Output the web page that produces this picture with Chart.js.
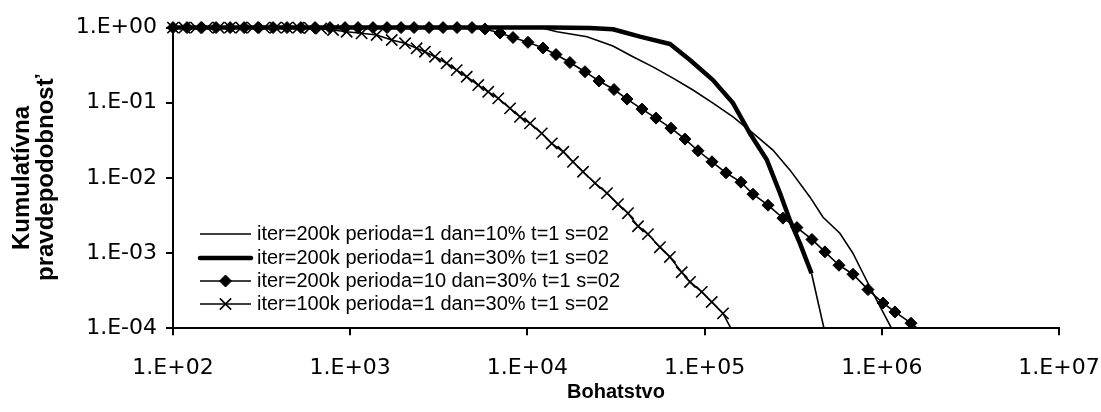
<!DOCTYPE html>
<html>
<head>
<meta charset="utf-8">
<script src="https://cdn.jsdelivr.net/npm/chart.js@4/dist/chart.umd.min.js"></script>
<style>
  html, body { margin: 0; padding: 0; background: #fff; }
  #wrap { width: 1101px; height: 412px; position: relative; }
</style>
</head>
<body>
<div id="wrap"><canvas id="chart"></canvas></div>
<script>
// Kumulatívna pravdepodobnosť vs Bohatstvo (log-log)
const FONT = '"Liberation Sans", Arial, sans-serif';
const TICK_FONT = '"DejaVu Sans", "Liberation Sans", sans-serif';

const xTicks = [1e2, 1e3, 1e4, 1e5, 1e6, 1e7];
const yTicks = [1e-4, 1e-3, 1e-2, 1e-1, 1e0];

const seriesLabels = [
    'iter=200k perioda=1 dan=10% t=1 s=02',
    'iter=200k perioda=1 dan=30% t=1 s=02',
    'iter=200k perioda=10 dan=30% t=1 s=02',
    'iter=100k perioda=1 dan=30% t=1 s=02',
];

// dan=10%, thin line
const s1X = [100, 10400, 12250, 14700, 21700, 30400, 39400, 51100, 66300, 86000, 111500,
             144600, 187500, 243000, 303500, 393700, 466000, 580000, 687000, 783000, 892000, 1233000];
const s1Y = [1, 1, 0.98, 0.88, 0.757, 0.569, 0.41, 0.30, 0.213, 0.148, 0.099,
             0.065, 0.0395, 0.0235, 0.0127, 0.00555, 0.0030, 0.00184, 0.000998, 0.00054, 0.000293, 0.000069];

// dan=30%, thick line
const s2X = [100, 13400, 22500, 30400, 43200, 63800, 82700, 111500, 144600, 180300,
             224800, 266200, 302900, 345100, 401600, 488800];
const s2Y = [1, 1, 0.99, 0.95, 0.757, 0.605, 0.37, 0.20, 0.099, 0.039,
             0.0173, 0.0063, 0.00274, 0.00135, 0.000535, 0.000069];

// perioda=10, diamonds
const s3X = [100, 120, 144, 175, 210, 252, 302, 367, 440, 527, 633, 769, 935, 1107, 1345,
             1614, 1936, 2292, 2786, 3342, 4009, 4869, 5764, 7003, 8292, 10075, 12250, 14500,
             17380, 21130, 25350, 30820, 36490, 44340, 53200, 64600, 77500, 91800, 110100,
             132100, 160400, 187500, 228000, 276800, 332000, 403400, 477700, 573200, 687700,
             835700, 1016000, 1186000, 1462000, 1775000];
const s3Y = [1, 1, 1, 1, 1, 1, 1, 1, 1, 1, 1, 1, 1, 1, 1,
             1, 1, 1, 1, 1, 1, 1, 0.96, 0.848, 0.738, 0.637, 0.535, 0.438,
             0.343, 0.259, 0.195, 0.150, 0.112, 0.0824, 0.0625, 0.046, 0.0329, 0.0230, 0.0164,
             0.0117, 0.00879, 0.00608, 0.00434, 0.00292, 0.00219, 0.00152, 0.00104, 0.00069, 0.000524,
             0.000327, 0.000217, 0.000165, 0.000117, 0.0000807];

// iter=100k, crosses
const s4X = [100, 116, 135, 156, 181, 210, 243, 282, 327, 379, 440, 510, 592, 686, 800,
             955, 1160, 1410, 1715, 2040, 2370, 2640, 3010, 3500, 3990, 4545, 5280, 6010,
             6850, 7980, 9085, 10350, 12050, 13720, 15950, 18080, 20600, 24060, 28120, 32440,
             36950, 42080, 47900, 55980, 63700, 74250, 82740, 96400, 109700, 127000, 158400];
const s4Y = [1, 1, 1, 1, 1, 1, 1, 1, 1, 1, 1, 1, 0.99, 0.97, 0.93,
             0.88, 0.84, 0.797, 0.684, 0.618, 0.53, 0.478, 0.41, 0.335, 0.272, 0.222, 0.172, 0.140,
             0.1145, 0.0842, 0.065, 0.0532, 0.0392, 0.0288, 0.0223, 0.0164, 0.0121, 0.00853, 0.00628, 0.00448,
             0.0034, 0.00228, 0.00179, 0.0012, 0.00089, 0.000557, 0.000414, 0.000305, 0.000224, 0.000158, 0.000059];

const toPts = (xs, ys) => xs.map((x, i) => ({ x: x, y: ys[i] }));

function fmtExp(v) {
    const e = Math.round(Math.log10(v));
    return '1.E' + (e < 0 ? '-' : '+') + String(Math.abs(e)).padStart(2, '0');
}

// legend drawn inside the plot, lower left
const insideLegend = {
    id: 'insideLegend',
    afterDatasetsDraw(chart) {
        const ctx = chart.ctx;
        const x0 = 200, x1 = 251, tx = 257;
        const rows = [234, 258, 281, 304];
        ctx.save();
        ctx.font = '20px ' + FONT;
        ctx.textBaseline = 'middle';
        ctx.textAlign = 'left';
        chart.data.datasets.forEach((ds, i) => {
            const y = rows[i];
            ctx.strokeStyle = '#000';
            ctx.fillStyle = '#000';
            ctx.lineWidth = ds.borderWidth;
            ctx.lineCap = ds.borderWidth > 3 ? 'round' : 'butt';
            ctx.beginPath();
            ctx.moveTo(x0, y);
            ctx.lineTo(x1, y);
            ctx.stroke();
            if (ds.pointRadius > 0) {
                ctx.lineWidth = ds.pointBorderWidth;
                Chart.helpers.drawPoint(ctx, {
                    pointStyle: ds.pointStyle, rotation: 0,
                    radius: ds.pointRadius, borderWidth: ds.pointBorderWidth
                }, (x0 + x1) / 2, y);
            }
            ctx.fillStyle = '#000';
            ctx.fillText(ds.label, tx, y);
        });
        ctx.restore();
    }
};

const clipArea = { left: 10, top: 10, right: 0, bottom: 0 };
const lastIdx2 = s2X.length - 1;

new Chart(document.getElementById('chart'), {
    type: 'line',
    data: {
        datasets: [
            {
                label: seriesLabels[0], data: toPts(s1X, s1Y),
                borderColor: '#000', borderWidth: 1.6, pointRadius: 0,
                tension: 0, clip: clipArea, order: 4,
            },
            {
                label: seriesLabels[1], data: toPts(s2X, s2Y),
                borderColor: '#000', borderWidth: 4.5, pointRadius: 0,
                tension: 0, clip: clipArea, order: 3, borderJoinStyle: 'round',
                segment: { borderWidth: c => (c.p1DataIndex === lastIdx2 ? 1.6 : 4.5) },
            },
            {
                label: seriesLabels[2], data: toPts(s3X, s3Y),
                borderColor: '#000', borderWidth: 1.6,
                pointStyle: 'rectRot', pointRadius: 6, pointBorderWidth: 1,
                pointBackgroundColor: '#000', pointBorderColor: '#000',
                tension: 0, clip: clipArea, order: 2,
            },
            {
                label: seriesLabels[3], data: toPts(s4X, s4Y),
                borderColor: '#000', borderWidth: 1.6,
                pointStyle: 'crossRot', pointRadius: 8, pointBorderWidth: 1.6,
                pointBackgroundColor: '#000', pointBorderColor: '#000',
                tension: 0, clip: clipArea, order: 1,
            },
        ],
    },
    options: {
        responsive: true,
        maintainAspectRatio: false,
        animation: false,
        layout: { padding: { left: 0, right: 42, top: 27.6, bottom: 0 } },
        plugins: { legend: { display: false }, tooltip: { enabled: false } },
        scales: {
            x: {
                type: 'logarithmic', min: 1e2, max: 1e7, position: 'bottom',
                afterBuildTicks: s => { s.ticks = xTicks.map(v => ({ value: v })); },
                afterFit: s => { s.height = 83.7; s.paddingLeft = 0; s.paddingRight = 0; },
                grid: { drawOnChartArea: false, drawTicks: true, tickLength: 7, color: '#000', lineWidth: 2 },
                border: { display: true, color: '#000', width: 2 },
                ticks: {
                    callback: v => fmtExp(v), autoSkip: false, maxRotation: 0,
                    font: { family: TICK_FONT, size: 22 }, color: '#000', padding: 20,
                },
                title: {
                    display: true, text: 'Bohatstvo', color: '#000',
                    font: { family: FONT, size: 20, weight: 'bold' }, padding: { top: 0, bottom: 8 },
                },
            },
            y: {
                type: 'logarithmic', min: 1e-4, max: 1, position: 'left',
                afterBuildTicks: s => { s.ticks = yTicks.map(v => ({ value: v })); },
                afterFit: s => { s.width = 173; },
                grid: { drawOnChartArea: false, drawTicks: true, tickLength: 7, color: '#000', lineWidth: 2 },
                border: { display: true, color: '#000', width: 2 },
                ticks: {
                    callback: v => fmtExp(v), autoSkip: false,
                    font: { family: TICK_FONT, size: 22 }, color: '#000', padding: 9,
                },
                title: {
                    display: true, text: ['Kumulatívna', 'pravdepodobnosť'], color: '#000',
                    font: { family: FONT, size: 24, weight: 'bold', lineHeight: 1 },
                    padding: { top: 10, bottom: 0 },
                },
            },
        },
    },
    plugins: [insideLegend],
});
</script>
</body>
</html>
